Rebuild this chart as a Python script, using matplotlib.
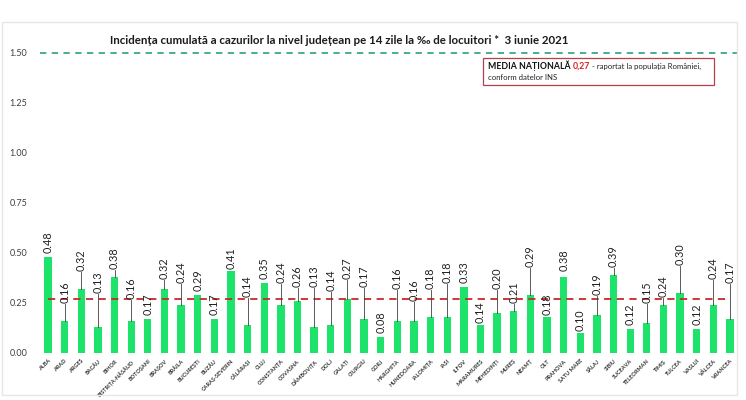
import matplotlib
matplotlib.use('Agg')
import matplotlib.pyplot as plt
from matplotlib.patches import Rectangle

# date: incidenta pe judete, 3 iunie 2021
judete = ['ALBA', 'ARAD', 'ARGEȘ', 'BACĂU', 'BIHOR', 'BISTRIȚA-NĂSĂUD', 'BOTOȘANI',
          'BRAȘOV', 'BRĂILA', 'BUCUREȘTI', 'BUZĂU', 'CARAȘ-SEVERIN', 'CĂLĂRAȘI', 'CLUJ',
          'CONSTANȚA', 'COVASNA', 'DÂMBOVIȚA', 'DOLJ', 'GALAȚI', 'GIURGIU', 'GORJ',
          'HARGHITA', 'HUNEDOARA', 'IALOMIȚA', 'IAȘI', 'ILFOV', 'MARAMUREȘ', 'MEHEDINȚI',
          'MUREȘ', 'NEAMȚ', 'OLT', 'PRAHOVA', 'SATU MARE', 'SĂLAJ', 'SIBIU', 'SUCEAVA',
          'TELEORMAN', 'TIMIȘ', 'TULCEA', 'VASLUI', 'VÂLCEA', 'VRANCEA']
incidenta = [0.48, 0.16, 0.32, 0.13, 0.38, 0.16, 0.17, 0.32, 0.24, 0.29, 0.17, 0.41,
             0.14, 0.35, 0.24, 0.26, 0.13, 0.14, 0.27, 0.17, 0.08, 0.16, 0.16, 0.18,
             0.18, 0.33, 0.14, 0.20, 0.21, 0.29, 0.18, 0.38, 0.10, 0.19, 0.39, 0.12,
             0.15, 0.24, 0.30, 0.12, 0.24, 0.17]
media_nationala = 0.27
prag = 1.50
y_ticks = [0.00, 0.25, 0.50, 0.75, 1.00, 1.25, 1.50]

# unde stau etichetele (unele sunt ridicate cu linie de legatura)
eticheta_y = [0.50, 0.25, 0.41, 0.30, 0.42, 0.27, 0.19, 0.37, 0.35, 0.31, 0.19, 0.42,
              0.28, 0.37, 0.35, 0.33, 0.33, 0.31, 0.37, 0.33, 0.10, 0.32, 0.26, 0.32,
              0.35, 0.35, 0.15, 0.32, 0.25, 0.43, 0.19, 0.41, 0.11, 0.29, 0.43, 0.14,
              0.25, 0.28, 0.44, 0.14, 0.37, 0.35]

FONT = ['Lato', 'DejaVu Sans']
plt.rcParams['font.family'] = FONT

W, H = 746, 400
fig = plt.figure(figsize=(W / 100, H / 100), dpi=100)

# chenar gri deschis in jurul graficului
fig.patches.append(Rectangle((2 / W, 1 - 395 / H), 735 / W, 373 / H,
                             transform=fig.transFigure, fill=False,
                             edgecolor='#e6e6e6', linewidth=1))

left, right = 39.7, 738.3
y0, ppu = 353, 200  # pixel pentru 0 si pixeli pe unitate
ymax = 1.55
ax = fig.add_axes([left / W, (H - y0) / H, (right - left) / W, ymax * ppu / H])

x = list(range(len(judete)))
ax.bar(x, incidenta, width=0.44, color='#1ee36b', zorder=3)

# linia de prag si media nationala
ax.axhline(prag, color='#3aa883', linestyle=(0, (3.5, 3)), linewidth=1.3, zorder=1)
ax.plot([0, len(judete) - 1], [media_nationala, media_nationala], color='#c8282b',
        linestyle=(0, (4, 3)), linewidth=1.3, zorder=4)

# etichete cu valori
for i, v in enumerate(incidenta):
    ly = eticheta_y[i]
    if ly - v > 0.035:
        ax.plot([i, i], [v, ly - 0.005], color='#404040', linewidth=0.6, zorder=5)
    ax.text(i, ly, '%.2f' % v, rotation=90, ha='center', va='bottom',
            fontsize=7.8, color='#222222', zorder=6)

ax.set_xlim(-0.5, len(judete) - 0.5)
ax.set_ylim(0, ymax)
ax.set_yticks(y_ticks)
ax.set_yticklabels(['%.2f' % t for t in y_ticks], fontsize=6.5, color='#404040')
ax.set_xticks(x)
ax.set_xticklabels(judete, rotation=45, ha='right', rotation_mode='anchor',
                   fontsize=4, fontweight='bold', color='#333333')
ax.tick_params(axis='both', length=0, pad=4)
ax.tick_params(axis='y', pad=9)
for s in ax.spines.values():
    s.set_visible(False)

fig.text(339 / W, 1 - 40 / H,
         'Incidența cumulată a cazurilor la nivel județean pe 14 zile la ‰ de locuitori *  3 iunie 2021',
         ha='center', va='center', fontsize=8.3, fontweight='bold', color='#1a1a1a')

# caseta cu media nationala
fig.patches.append(Rectangle((483 / W, 1 - 85 / H), 231 / W, 27 / H,
                             transform=fig.transFigure, fill=True, facecolor='white',
                             edgecolor='#b5404a', linewidth=0.9))
renderer = fig.canvas.get_renderer()
px = 488
bucati = [('MEDIA NAȚIONALĂ ', 'bold', '#111111', 6.3),
          ('0,27', 'bold', '#d9252a', 6.3),
          (' - raportat la populația României,', 'normal', '#222222', 5.6)]
for txt, fw, col, fs in bucati:
    t = fig.text(px / W, 1 - 66 / H, txt, ha='left', va='center', fontsize=fs,
                 fontweight=fw, color=col)
    bb = t.get_window_extent(renderer=renderer)
    px += bb.width
fig.text(488 / W, 1 - 78 / H, 'conform datelor INS', ha='left', va='center',
         fontsize=5.6, color='#222222')

fig.savefig('out.png', dpi=100)
